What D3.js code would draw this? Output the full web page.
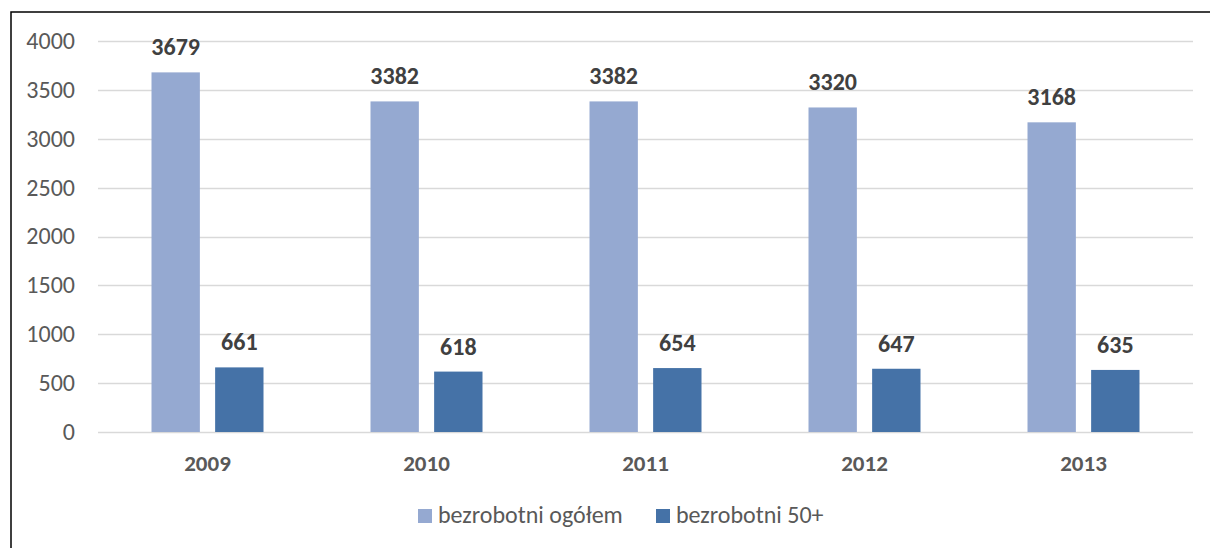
<html lang="pl">
<head>
<meta charset="utf-8">
<title>Bezrobotni</title>
<style>
  body { margin: 0; background: #fff; }
  svg { display: block; font-family: Carlito, Calibri, "Open Sans", sans-serif; }
</style>
<script src="https://cdnjs.cloudflare.com/ajax/libs/d3/7.8.5/d3.min.js"></script>
</head>
<body>
<div id="chart"></div>
<script>
var years = ["2009", "2010", "2011", "2012", "2013"];
var ogolem = [3679, 3382, 3382, 3320, 3168];
var plus50 = [661, 618, 654, 647, 635];
var seriesNames = ["bezrobotni ogółem", "bezrobotni 50+"];
var colors = ["#95a9d1", "#4572a7"];
var yTicks = [0, 500, 1000, 1500, 2000, 2500, 3000, 3500, 4000];

var fullwidth = 1210, fullheight = 548;
var margin = {top: 41, right: 17, bottom: 116, left: 98};
var width = fullwidth - margin.left - margin.right;
var height = fullheight - margin.top - margin.bottom;

var svg = d3.select("#chart").append("svg")
    .attr("width", fullwidth)
    .attr("height", fullheight);

// frame
svg.append("rect")
    .attr("x", 11).attr("y", 12)
    .attr("width", fullwidth + 10).attr("height", fullheight + 10)
    .attr("fill", "none").attr("stroke", "#000").attr("stroke-width", 1.5);

var g = svg.append("g").attr("transform", "translate(" + margin.left + "," + margin.top + ")");

var x = d3.scaleBand().domain(years).range([0, width]);
var x1 = d3.scaleBand().domain([0, 1]).range([0, 112]).paddingInner(0.24);
var y = d3.scaleLinear().domain([0, 4000]).range([height, 0]);

// gridlines
g.selectAll("line.grid").data(yTicks).enter().append("line")
    .attr("class", "grid")
    .attr("x1", 0).attr("x2", width)
    .attr("y1", function(d) { return Math.round(y(d)) + 0.5; })
    .attr("y2", function(d) { return Math.round(y(d)) + 0.5; })
    .attr("stroke", "#d9d9d9").attr("stroke-width", 1.5);

// y labels
g.selectAll("text.ytick").data(yTicks).enter().append("text")
    .attr("class", "ytick")
    .attr("x", -23)
    .attr("y", function(d) { return y(d); })
    .attr("dy", "0.33em")
    .attr("text-anchor", "end")
    .attr("font-size", 24)
    .attr("fill", "#595959")
    .text(function(d) { return d; });

var rows = years.map(function(yr, i) { return {year: yr, vals: [ogolem[i], plus50[i]]}; });

var groups = g.selectAll("g.grp").data(rows).enter().append("g")
    .attr("class", "grp")
    .attr("transform", function(d) { return "translate(" + (x(d.year) + x.bandwidth() / 2 - 56) + ",0)"; });

groups.selectAll("rect").data(function(d) { return d.vals; }).enter().append("rect")
    .attr("x", function(d, i) { return x1(i); })
    .attr("width", x1.bandwidth())
    .attr("y", function(d) { return y(d); })
    .attr("height", function(d) { return height - y(d); })
    .attr("fill", function(d, i) { return colors[i]; });

groups.selectAll("text").data(function(d) { return d.vals; }).enter().append("text")
    .attr("x", function(d, i) { return x1(i) + x1.bandwidth() / 2; })
    .attr("y", function(d) { return y(d) - 17; })
    .attr("text-anchor", "middle")
    .attr("font-size", 24)
    .attr("font-weight", "bold")
    .attr("fill", "#404040")
    .text(function(d) { return d; });

// x labels
g.selectAll("text.xlab").data(years).enter().append("text")
    .attr("class", "xlab")
    .attr("x", function(d) { return x(d) + x.bandwidth() / 2; })
    .attr("y", height + 39)
    .attr("text-anchor", "middle")
    .attr("font-size", 23)
    .attr("font-weight", "bold")
    .attr("fill", "#595959")
    .text(function(d) { return d; });

// legend
var legendX = [418, 656];
var leg = svg.selectAll("g.leg").data(seriesNames).enter().append("g")
    .attr("class", "leg")
    .attr("transform", function(d, i) { return "translate(" + legendX[i] + ",509)"; });
leg.append("rect").attr("width", 14).attr("height", 14)
    .attr("fill", function(d, i) { return colors[i]; });
leg.append("text").attr("x", 20).attr("y", 14)
    .attr("font-size", 24).attr("fill", "#595959")
    .text(function(d) { return d; });
</script>
</body>
</html>
